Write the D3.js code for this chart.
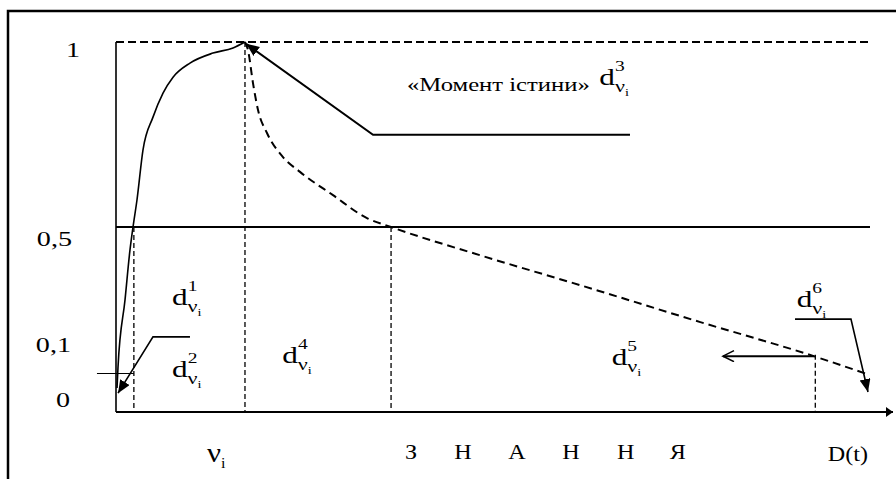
<!DOCTYPE html>
<html><head><meta charset="utf-8">
<script src="https://cdn.jsdelivr.net/npm/d3@7"></script>
<style>
html,body{margin:0;padding:0;background:#fff;}
</style></head>
<body>
<svg id="chart" width="896" height="479"></svg>
<script>
// ---- data (x in abstract time units 0..100, y in membership 0..1) ----
const yTickValues = [1, 0.5, 0.1, 0];
const yTickLabels = ["1", "0,5", "0,1", "0"];
const solidX = [0.13, 0.26, 1.16, 1.8, 2.19, 2.7, 3.47, 4.76, 6.05, 7.34, 9.52, 12.48, 15.06, 16.6];
const solidY = [0.065, 0.122, 0.303, 0.438, 0.5, 0.573, 0.708, 0.797, 0.862, 0.905, 0.943, 0.97, 0.984, 1.0];
const dashedX = [16.6, 16.99, 17.63, 18.28, 19.43, 21.49, 23.68, 27.93, 32.3, 35.39, 46.8, 59.7, 75.2, 89.8, 97.0];
const dashedY = [1.0, 0.978, 0.889, 0.816, 0.754, 0.689, 0.649, 0.586, 0.524, 0.5, 0.424, 0.343, 0.243, 0.151, 0.1];
const markX = [2.3, 16.6, 35.4, 90.0];          // vertical dashed markers
const markTop = [0.5, 1.0, 0.5, 0.155];
const xLetters = ["З", "Н", "А", "Н", "Н", "Я"];
const xLetterPos = [37.97, 44.66, 51.6, 58.56, 65.6, 72.3];
const dLabels = [
  {sup: "1", x: 7.21, y: 0.289},
  {sup: "2", x: 7.21, y: 0.095},
  {sup: "3", x: 62.2, y: 0.884},
  {sup: "4", x: 21.4, y: 0.132},
  {sup: "5", x: 63.8, y: 0.127},
  {sup: "6", x: 87.6, y: 0.284}
];
const pointerD3 = [[66.15, 0.749], [33.08, 0.749], [16.75, 0.995]];
const pointerD2 = [[9.52, 0.203], [4.76, 0.203], [0.26, 0.051]];
const pointerD6 = [[87.39, 0.251], [94.59, 0.251], [96.78, 0.054]];
const arrowD5 = [[89.83, 0.151], [78.12, 0.151]];
const levelEnd = 97.04;
const titleText = "«Момент істини»";

// ---- scales ----
const x = d3.scaleLinear().domain([0, 100]).range([116, 893]);
const y = d3.scaleLinear().domain([0, 1]).range([412, 42]);

const FONT = "'Liberation Serif', 'Times New Roman', Tinos, serif";
const SX = 1.28; // the reference text is horizontally stretched

const svg = d3.select("#chart");
const defs = svg.append("defs");
defs.append("marker").attr("id", "tri").attr("markerUnits", "userSpaceOnUse")
  .attr("markerWidth", 14).attr("markerHeight", 12).attr("refX", 13).attr("refY", 5.5)
  .attr("orient", "auto").append("path").attr("d", "M0,0 L13,5.5 L0,11 z").attr("fill", "#000");
defs.append("marker").attr("id", "axarrow").attr("markerUnits", "userSpaceOnUse")
  .attr("markerWidth", 8).attr("markerHeight", 10).attr("refX", 7).attr("refY", 5)
  .attr("orient", "auto").append("path").attr("d", "M0,0 L7,5 L0,10 z").attr("fill", "#000");
defs.append("marker").attr("id", "open").attr("markerUnits", "userSpaceOnUse")
  .attr("markerWidth", 14).attr("markerHeight", 14).attr("refX", 12).attr("refY", 6)
  .attr("orient", "auto").append("path").attr("d", "M1,0.5 L12,6 L1,11.5")
  .attr("fill", "none").attr("stroke", "#000").attr("stroke-width", 1.6);

function txt(parent, px, py, str, size, anchor, sx) {
  return parent.append("text")
    .attr("transform", `translate(${px},${py}) scale(${sx || SX},1)`)
    .attr("text-anchor", anchor || "start")
    .attr("font-size", size).style("font-family", FONT).attr("fill", "#000")
    .text(str);
}

// frame
svg.append("path").attr("d", "M8,479 L8,11 L896,11").attr("fill", "none")
  .attr("stroke", "#000").attr("stroke-width", 2.5);

const line = d3.line().x(d => x(d[0])).y(d => y(d[1])).curve(d3.curveMonotoneX);

// level lines
svg.append("line").attr("x1", x(0)).attr("x2", x(levelEnd)).attr("y1", y(1)).attr("y2", y(1))
  .attr("stroke", "#000").attr("stroke-width", 2).attr("stroke-dasharray", "8,4");
svg.append("line").attr("x1", x(0)).attr("x2", x(levelEnd)).attr("y1", y(0.5)).attr("y2", y(0.5))
  .attr("stroke", "#000").attr("stroke-width", 2);
svg.append("line").attr("x1", x(-2.45)).attr("x2", x(markX[0])).attr("y1", y(0.104)).attr("y2", y(0.104))
  .attr("stroke", "#000").attr("stroke-width", 1.2);

// vertical dashed markers
svg.selectAll(".mark").data(markX).join("line")
  .attr("x1", d => x(d)).attr("x2", d => x(d))
  .attr("y1", (d, i) => y(markTop[i])).attr("y2", y(0))
  .attr("stroke", "#000").attr("stroke-width", 1.3).attr("stroke-dasharray", "5,3");

// axes
svg.append("line").attr("x1", x(0)).attr("x2", x(0)).attr("y1", y(1)).attr("y2", y(0))
  .attr("stroke", "#000").attr("stroke-width", 1.6);
svg.append("line").attr("x1", x(0)).attr("x2", x(100)).attr("y1", y(0)).attr("y2", y(0))
  .attr("stroke", "#000").attr("stroke-width", 2).attr("marker-end", "url(#axarrow)");

// curves
svg.append("path").datum(solidX.map((v, i) => [v, solidY[i]]))
  .attr("d", line).attr("fill", "none")
  .attr("stroke", "#000").attr("stroke-width", 1.6);
svg.append("path").datum(dashedX.map((v, i) => [v, dashedY[i]]))
  .attr("d", line).attr("fill", "none")
  .attr("stroke", "#000").attr("stroke-width", 2).attr("stroke-dasharray", "8,5");

// pointers
const straight = d3.line().x(d => x(d[0])).y(d => y(d[1]));
[pointerD3, pointerD2, pointerD6].forEach((p, i) => {
  svg.append("path").attr("d", straight(p)).attr("fill", "none")
    .attr("stroke", "#000").attr("stroke-width", i === 0 ? 2 : 1.6)
    .attr("marker-end", "url(#tri)");
});
svg.append("path").attr("d", straight(arrowD5)).attr("fill", "none")
  .attr("stroke", "#000").attr("stroke-width", 2).attr("marker-end", "url(#open)");

// y tick labels
const yLabX = [80, 72, 71, 70], yLabY = [57, 246, 352, 407];
yTickValues.forEach((v, i) => txt(svg, yLabX[i], yLabY[i], yTickLabels[i], 22, "end"));

// x letters
xLetters.forEach((l, i) => txt(svg, x(xLetterPos[i]), 459, l, 21, "middle", 1.15));
const nu = txt(svg, 207, 462, "ν", 27, "start", 1.15);
nu.append("tspan").attr("font-size", 14).attr("dy", 6).text("i");
txt(svg, x(94.2), 461, "D(t)", 21, "middle", 1.15);

// title text
txt(svg, 407, 91, titleText, 19, "start", 1.3);

// d labels: d with superscript index and subscript ν_i, in one text element
dLabels.forEach(d => {
  const t = txt(svg, x(d.x), y(d.y), "d", 24, "start", 1.3);
  t.append("tspan").attr("font-size", 15).attr("dy", -14).text(d.sup);
  t.append("tspan").attr("font-size", 17).attr("dx", -7.5).attr("dy", 21).text("ν");
  t.append("tspan").attr("font-size", 11).attr("dy", 4).text("i");
});
</script>
</body></html>
